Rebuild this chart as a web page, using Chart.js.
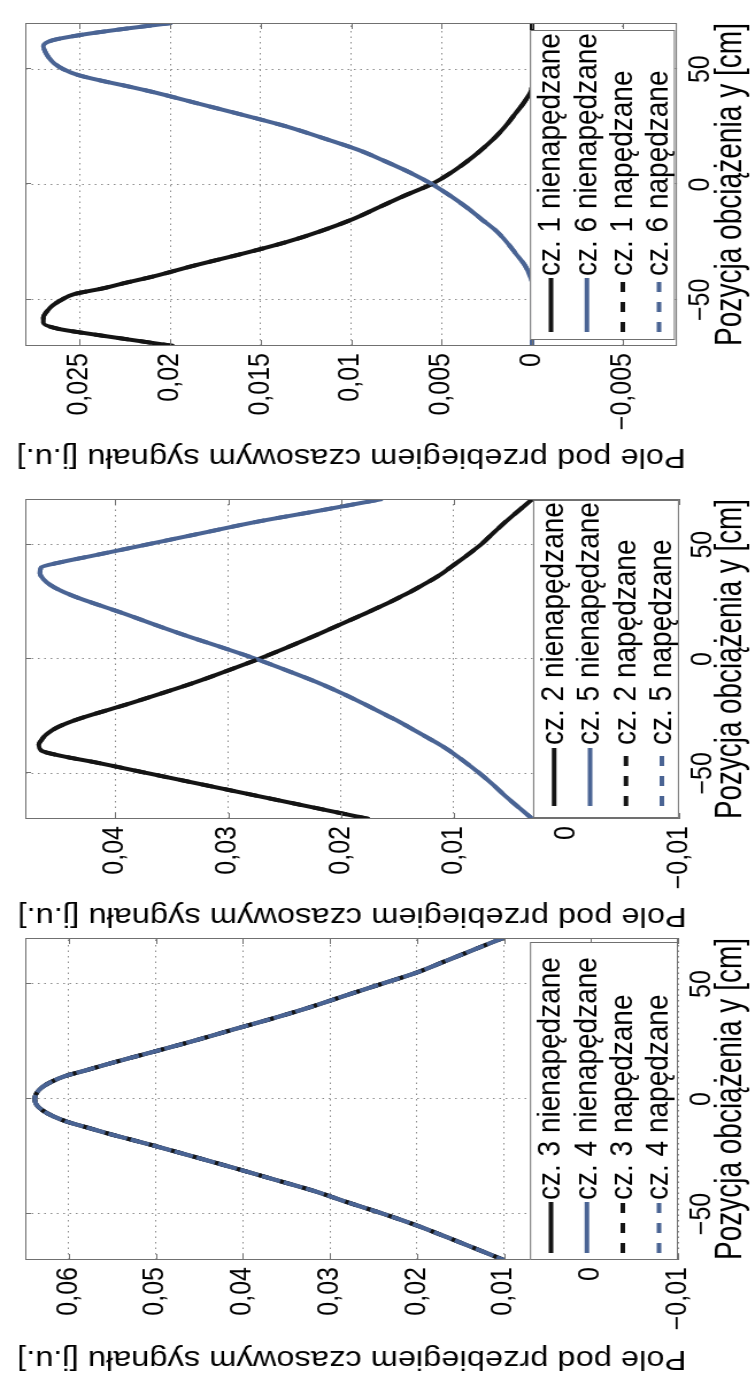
<!DOCTYPE html>
<html>
<head>
<meta charset="utf-8">
<script src="https://cdn.jsdelivr.net/npm/chart.js@4.4.1/dist/chart.umd.min.js"></script>
<style>
  html, body { margin: 0; padding: 0; background: #fff; }
  body { width: 755px; height: 1378px; position: relative; overflow: hidden; }
  .panel { position: absolute; left: 0; transform-origin: 0 0; }
  .panel canvas { display: block; }
</style>
</head>
<body>
<div class="panel" id="wrapA"><canvas id="chartA" width="476" height="657"></canvas></div>
<div class="panel" id="wrapB"><canvas id="chartB" width="459" height="657"></canvas></div>
<div class="panel" id="wrapC"><canvas id="chartC" width="443" height="657"></canvas></div>
<script>
// pozycja obciazenia [cm]
const pozycjeA = [-70, -67.5, -65, -62.5, -60, -57.5, -55, -52.5, -50, -47.5, -45, -42.5, -40, -35, -30, -25, -20, -15, -10, -5, 0, 5, 10, 15, 20, 25, 30, 35, 40, 42.5, 45, 47.5, 50, 52.5, 55, 57.5, 60, 62.5, 65, 67.5, 70];
const pozycjeB = [-70, -65, -60, -55, -50, -45, -42.5, -40, -37.5, -35, -32.5, -30, -27.5, -25, -22.5, -20, -15, -10, -5, 0, 5, 10, 15, 20, 22.5, 25, 27.5, 30, 32.5, 35, 37.5, 40, 42.5, 45, 50, 55, 60, 65, 70];
const pozycjeC = [-70, -65, -60, -55, -50, -45, -40, -35, -30, -25, -20, -17.5, -15, -12.5, -10, -7.5, -5, -2.5, 0, 2.5, 5, 7.5, 10, 12.5, 15, 17.5, 20, 25, 30, 35, 40, 45, 50, 55, 60, 65, 70];

// pole pod przebiegiem [j.u.]
const cz1Nien = [0.0198, 0.0220, 0.0242, 0.0262, 0.0270, 0.0270, 0.0268, 0.0265, 0.0260, 0.0253, 0.0237, 0.0224, 0.0210, 0.0186, 0.0160, 0.0136, 0.0116, 0.0099, 0.0085, 0.0071, 0.0056, 0.0045, 0.0036, 0.0028, 0.0021, 0.0015, 0.0010, 0.0005, 0.0001, 0, 0, 0, 0, 0, 0, 0, 0, 0, 0, 0, 0];
const cz6Nien = [0, 0, 0, 0, 0, 0, 0, 0, 0, 0, 0, 0, 0.0001, 0.0004, 0.0009, 0.0014, 0.0020, 0.0028, 0.0036, 0.0045, 0.0055, 0.0067, 0.0081, 0.0096, 0.0115, 0.0135, 0.0159, 0.0184, 0.0209, 0.0223, 0.0238, 0.0251, 0.0259, 0.0264, 0.0267, 0.0269, 0.0270, 0.0265, 0.0248, 0.0225, 0.0199];
const cz1Nap = [0.0198, 0.0220, 0.0242, 0.0262, 0.0270, 0.0270, 0.0268, 0.0265, 0.0260, 0.0253, 0.0237, 0.0224, 0.0210, 0.0186, 0.0160, 0.0136, 0.0116, 0.0099, 0.0085, 0.0071, 0.0056, 0.0045, 0.0036, 0.0028, 0.0021, 0.0015, 0.0010, 0.0005, 0.0001, 0, 0, 0, 0, 0, 0, 0, 0, 0, 0, 0, 0];
const cz6Nap = [0, 0, 0, 0, 0, 0, 0, 0, 0, 0, 0, 0, 0.0001, 0.0004, 0.0009, 0.0014, 0.0020, 0.0028, 0.0036, 0.0045, 0.0055, 0.0067, 0.0081, 0.0096, 0.0115, 0.0135, 0.0159, 0.0184, 0.0209, 0.0223, 0.0238, 0.0251, 0.0259, 0.0264, 0.0267, 0.0269, 0.0270, 0.0265, 0.0248, 0.0225, 0.0199];

const cz2Nien = [0.0175, 0.0224, 0.0273, 0.0322, 0.0371, 0.0420, 0.0447, 0.0466, 0.0468, 0.0465, 0.0460, 0.0452, 0.0440, 0.0425, 0.0408, 0.0391, 0.0359, 0.0328, 0.0300, 0.0273, 0.0248, 0.0224, 0.0201, 0.0178, 0.0167, 0.0156, 0.0146, 0.0136, 0.0127, 0.0118, 0.0110, 0.0103, 0.0096, 0.0089, 0.0076, 0.0065, 0.0054, 0.0042, 0.0030];
const cz5Nien = [0.0030, 0.0042, 0.0054, 0.0065, 0.0077, 0.0090, 0.0097, 0.0104, 0.0112, 0.0121, 0.0130, 0.0139, 0.0148, 0.0158, 0.0168, 0.0178, 0.0199, 0.0222, 0.0248, 0.0275, 0.0305, 0.0336, 0.0365, 0.0393, 0.0408, 0.0423, 0.0437, 0.0449, 0.0458, 0.0464, 0.0467, 0.0466, 0.0447, 0.0422, 0.0373, 0.0324, 0.0275, 0.0218, 0.0163];
const cz2Nap = [0.0175, 0.0224, 0.0273, 0.0322, 0.0371, 0.0420, 0.0447, 0.0466, 0.0468, 0.0465, 0.0460, 0.0452, 0.0440, 0.0425, 0.0408, 0.0391, 0.0359, 0.0328, 0.0300, 0.0273, 0.0248, 0.0224, 0.0201, 0.0178, 0.0167, 0.0156, 0.0146, 0.0136, 0.0127, 0.0118, 0.0110, 0.0103, 0.0096, 0.0089, 0.0076, 0.0065, 0.0054, 0.0042, 0.0030];
const cz5Nap = [0.0030, 0.0042, 0.0054, 0.0065, 0.0077, 0.0090, 0.0097, 0.0104, 0.0112, 0.0121, 0.0130, 0.0139, 0.0148, 0.0158, 0.0168, 0.0178, 0.0199, 0.0222, 0.0248, 0.0275, 0.0305, 0.0336, 0.0365, 0.0393, 0.0408, 0.0423, 0.0437, 0.0449, 0.0458, 0.0464, 0.0467, 0.0466, 0.0447, 0.0422, 0.0373, 0.0324, 0.0275, 0.0218, 0.0163];

const cz3Nien = [0.0100, 0.0133, 0.0166, 0.0200, 0.0238, 0.0279, 0.0318, 0.0364, 0.0410, 0.0457, 0.0505, 0.0530, 0.0555, 0.0578, 0.0601, 0.0618, 0.0630, 0.0637, 0.0639, 0.0637, 0.0631, 0.0620, 0.0604, 0.0580, 0.0557, 0.0533, 0.0508, 0.0459, 0.0413, 0.0366, 0.0322, 0.0282, 0.0241, 0.0200, 0.0167, 0.0134, 0.0101];
const cz4Nien = [0.0100, 0.0133, 0.0166, 0.0200, 0.0238, 0.0279, 0.0318, 0.0364, 0.0410, 0.0457, 0.0505, 0.0530, 0.0555, 0.0578, 0.0601, 0.0618, 0.0630, 0.0637, 0.0639, 0.0637, 0.0631, 0.0620, 0.0604, 0.0580, 0.0557, 0.0533, 0.0508, 0.0459, 0.0413, 0.0366, 0.0322, 0.0282, 0.0241, 0.0200, 0.0167, 0.0134, 0.0101];
const cz3Nap = [0.0100, 0.0133, 0.0166, 0.0200, 0.0238, 0.0279, 0.0318, 0.0364, 0.0410, 0.0457, 0.0505, 0.0530, 0.0555, 0.0578, 0.0601, 0.0618, 0.0630, 0.0637, 0.0639, 0.0637, 0.0631, 0.0620, 0.0604, 0.0580, 0.0557, 0.0533, 0.0508, 0.0459, 0.0413, 0.0366, 0.0322, 0.0282, 0.0241, 0.0200, 0.0167, 0.0134, 0.0101];
const cz4Nap = [0.0100, 0.0133, 0.0166, 0.0200, 0.0238, 0.0279, 0.0318, 0.0364, 0.0410, 0.0457, 0.0505, 0.0530, 0.0555, 0.0578, 0.0601, 0.0618, 0.0630, 0.0637, 0.0639, 0.0637, 0.0631, 0.0620, 0.0604, 0.0580, 0.0557, 0.0533, 0.0508, 0.0459, 0.0413, 0.0366, 0.0322, 0.0282, 0.0241, 0.0200, 0.0167, 0.0134, 0.0101];

const etykietyA = ['cz. 1 nienapędzane', 'cz. 6 nienapędzane', 'cz. 1 napędzane', 'cz. 6 napędzane'];
const etykietyB = ['cz. 2 nienapędzane', 'cz. 5 nienapędzane', 'cz. 2 napędzane', 'cz. 5 napędzane'];
const etykietyC = ['cz. 3 nienapędzane', 'cz. 4 nienapędzane', 'cz. 3 napędzane', 'cz. 4 napędzane'];

const tickiPozycji = [-50, 0, 50];
const tickiA = [-0.005, 0, 0.005, 0.01, 0.015, 0.02, 0.025];
const tickiB = [-0.01, 0, 0.01, 0.02, 0.03, 0.04];
const tickiC = [-0.01, 0, 0.01, 0.02, 0.03, 0.04, 0.05, 0.06];
const zakresA = [-0.008, 0.028];
const zakresB = [-0.01, 0.048];
const zakresC = [-0.01, 0.065];

const tytulX = 'Pozycja obciążenia y [cm]';
const tytulY = 'Pole pod przebiegiem czasowym sygnału [j.u.]';

const CZARNY = '#141414';
const NIEBIESKI = '#4a6494';
const SZARY = '#707070';
const SIATKA = '#8a8a8a';
const FONT = "'Liberation Sans', Arial, Helvetica, sans-serif";
const WYS = 657;             // wysokosc plotna przed rozciagnieciem
const SKALA = 755 / WYS;     // rysunek jest lekko rozciagniety w poprzek osi

function formatLiczby(v) {
    const r = Math.round(v * 100000) / 100000;
    if (r === 0) return '0';
    return (r < 0 ? '\u2212' : '') + String(Math.abs(r)).replace('.', ',');
}

function pary(poz, wartosci) {
    return poz.map((p, i) => ({ x: p, y: wartosci[i] }));
}

function zbiory(poz, serie, etykiety) {
    const style = [
        { kolor: CZARNY, dash: [], offset: 0 },
        { kolor: NIEBIESKI, dash: [], offset: 0 },
        { kolor: CZARNY, dash: [10, 10], offset: 0 },
        { kolor: NIEBIESKI, dash: [10, 10], offset: 3 }
    ];
    return serie.map((s, i) => ({
        label: etykiety[i],
        data: pary(poz, s),
        borderColor: style[i].kolor,
        borderWidth: 4,
        borderDash: style[i].dash,
        borderDashOffset: style[i].offset,
        pointRadius: 0,
        cubicInterpolationMode: 'monotone',
        clip: 0,
        order: 4 - i
    }));
}

// ramka osi, kreski podzialki do srodka i legenda w ramce
const ramkaLegenda = {
    id: 'ramkaLegenda',
    afterDraw(chart, args, opts) {
        const ctx = chart.ctx;
        const a = chart.chartArea;
        const sx = chart.scales.x;
        const sy = chart.scales.y;
        ctx.save();
        ctx.strokeStyle = SZARY;
        ctx.lineWidth = 1;
        ctx.setLineDash([]);
        ctx.beginPath();
        sx.ticks.forEach(t => {
            const px = Math.round(sx.getPixelForValue(t.value)) + 0.5;
            ctx.moveTo(px, a.top); ctx.lineTo(px, a.top + 5);
            ctx.moveTo(px, a.bottom); ctx.lineTo(px, a.bottom - 5);
        });
        sy.ticks.forEach(t => {
            const py = Math.round(sy.getPixelForValue(t.value)) + 0.5;
            ctx.moveTo(a.left, py); ctx.lineTo(a.left + 6, py);
            ctx.moveTo(a.right, py); ctx.lineTo(a.right - 6, py);
        });
        ctx.stroke();
        ctx.strokeRect(a.left + 0.5, a.top + 0.5, a.right - a.left - 1, a.bottom - a.top - 1);

        const x0 = a.left + opts.lewo;
        const x1 = a.right - opts.prawo;
        const y1 = a.bottom - opts.dol;
        const y0 = y1 - opts.wys;
        ctx.fillStyle = '#fff';
        ctx.fillRect(x0, y0, x1 - x0, y1 - y0);
        ctx.strokeRect(x0 + 0.5, y0 + 0.5, x1 - x0 - 1, y1 - y0 - 1);

        ctx.font = '28px ' + FONT;
        ctx.textBaseline = 'middle';
        ctx.textAlign = 'left';
        chart.data.datasets.forEach((ds, i) => {
            const y = y0 + 18.3 + i * 31.3;
            ctx.save();
            ctx.strokeStyle = ds.borderColor;
            ctx.lineWidth = ds.borderWidth;
            ctx.setLineDash(ds.borderDash);
            ctx.lineCap = 'butt';
            ctx.beginPath();
            ctx.moveTo(x0 + opts.linia[0], y);
            ctx.lineTo(x0 + opts.linia[1], y);
            ctx.stroke();
            ctx.restore();
            ctx.fillStyle = '#000';
            ctx.fillText(ds.label, x0 + opts.tekst, y);
        });
        ctx.restore();
    }
};

function rysujPanel(idCanvas, poz, serie, etykiety, ticki, zakres, uklad, legenda) {
    const ctx = document.getElementById(idCanvas).getContext('2d');
    return new Chart(ctx, {
        type: 'line',
        data: { datasets: zbiory(poz, serie, etykiety) },
        options: {
            responsive: false,
            animation: false,
            devicePixelRatio: 1,
            layout: { padding: { top: 10.4, right: uklad.prawo, left: 0, bottom: 0 } },
            plugins: {
                legend: { display: false },
                tooltip: { enabled: false },
                ramkaLegenda: legenda
            },
            scales: {
                x: {
                    type: 'linear',
                    min: -70,
                    max: 70,
                    afterBuildTicks: s => { s.ticks = tickiPozycji.map(v => ({ value: v })); },
                    afterFit: s => { s.height = uklad.osX; },
                    ticks: {
                        autoSkip: false, maxRotation: 0, minRotation: 0, padding: 6, color: '#000',
                        font: { family: FONT, size: 25 },
                        callback: v => formatLiczby(v)
                    },
                    grid: { color: SIATKA, lineWidth: 1, drawTicks: false },
                    border: { display: false, dash: [1.5, 4] },
                    title: {
                        display: true, text: tytulX, color: '#000',
                        font: { family: FONT, size: 32.5 },
                        padding: { top: 0, bottom: 1 }
                    }
                },
                y: {
                    type: 'linear',
                    min: zakres[0],
                    max: zakres[1],
                    afterBuildTicks: s => { s.ticks = ticki.map(v => ({ value: v })); },
                    afterFit: s => { s.width = uklad.osY; },
                    ticks: {
                        autoSkip: false, padding: 7, color: '#000',
                        font: { family: FONT, size: 25 },
                        callback: v => formatLiczby(v)
                    },
                    grid: { color: SIATKA, lineWidth: 1, drawTicks: false },
                    border: { display: false, dash: [1.5, 4] },
                    title: {
                        display: true, text: tytulY, color: '#000',
                        font: { family: FONT, size: 28.4 },
                        padding: { top: 2, bottom: 0 }
                    }
                }
            }
        },
        plugins: [ramkaLegenda]
    });
}

// wykresy obrocone o 90 stopni w lewo, jak na rysunku
function ustawPanel(idWrap, gora, szer) {
    const el = document.getElementById(idWrap);
    el.style.top = gora + 'px';
    el.style.width = szer + 'px';
    el.style.height = WYS + 'px';
    el.style.transform = 'rotate(-90deg) scale(1, ' + SKALA + ')';
}

ustawPanel('wrapA', 476, 476);
ustawPanel('wrapB', 935, 459);
ustawPanel('wrapC', 1378, 443);

rysujPanel('chartA', pozycjeA, [cz1Nien, cz6Nien, cz1Nap, cz6Nap], etykietyA, tickiA, zakresA,
    { prawo: 23, osY: 130, osX: 67.9 },
    { lewo: 6, prawo: 7, dol: 1.7, wys: 126.2, linia: [8, 62], tekst: 64 });
rysujPanel('chartB', pozycjeB, [cz2Nien, cz5Nien, cz2Nap, cz5Nap], etykietyB, tickiB, zakresB,
    { prawo: 23, osY: 116, osX: 66.1 },
    { lewo: 1, prawo: 1, dol: 0, wys: 127, linia: [12, 70], tekst: 73 });
rysujPanel('chartC', pozycjeC, [cz3Nien, cz4Nien, cz3Nap, cz4Nap], etykietyC, tickiC, zakresC,
    { prawo: 3, osY: 118, osX: 67 },
    { lewo: 0, prawo: 4, dol: 0, wys: 128.8, linia: [7, 58], tekst: 60 });
</script>
</body>
</html>
